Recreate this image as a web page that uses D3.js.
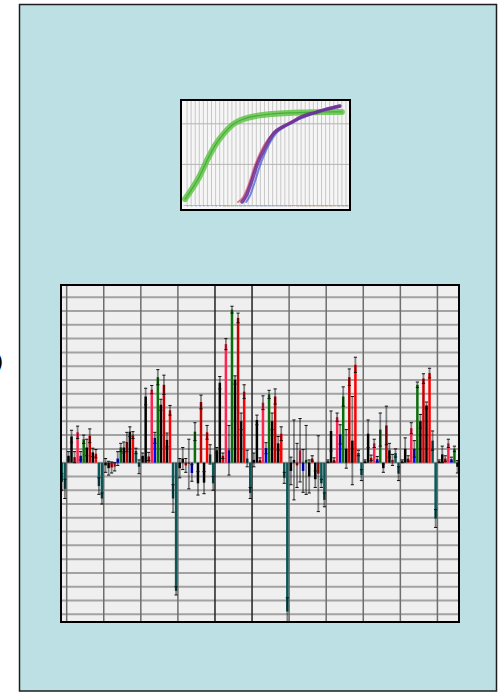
<!DOCTYPE html>
<html>
<head>
<meta charset="utf-8">
<script src="https://cdn.jsdelivr.net/npm/d3@7"></script>
<style>
  body { margin: 0; background: #fff; }
  svg { display: block; }
</style>
</head>
<body>
<svg width="499" height="693"></svg>
<script>
'use strict';

// bar chart: 12 slots per group, colour is fixed per slot
const slotColors = ['#000000', '#000000', '#d40000', '#ff2450', '#0000ff', '#0a6e0a',
  '#000000', '#c40000', '#000000', '#ff0000', '#0b5656', '#0b5656'];
const groupIds = d3.range(-1, 11);
const values = [
  [null, null, null, null, null, null, null, null, null, null, -1.4, -1.9],
  [0.5, 1.9, 0.4, 2.2, 0.5, 1.7, 1.1, 1.95, 0.75, 0.65, -1.7, -2.6],
  [-0.2, -0.4, -0.35, -0.3, 0.3, 1.1, 1.1, 1.5, 2.25, 2.0, 0.85, -0.3],
  [0.5, 4.8, 0.45, 5.3, 1.8, 6.2, 4.2, 5.65, 1.65, 3.8, -2.6, -9.3],
  [-0.4, 0.3, -0.2, -0.1, -0.75, 2.25, -1.5, 4.4, -1.45, 2.2, 0.6, -1.5],
  [0.9, 5.8, 0.5, 8.6, 0.9, 11.1, 6.0, 10.5, 3.0, 5.15, 0.3, -2.2],
  [0.2, 3.1, 0.2, 4.35, 1.05, 4.95, 3.0, 4.8, 1.4, 2.1, -1.1, -10.8],
  [-0.6, 0.2, -0.2, 0.9, -0.6, 0.2, -1.0, 0.3, -1.2, -0.8, -1.5, -2.7],
  [0.1, 2.3, 0.2, 3.3, 2.05, 4.8, 1.0, 6.2, 1.6, 7.1, 0.7, -0.9],
  [0.1, 2.1, 0.35, 1.4, 0.25, 2.4, -0.4, 2.7, 0.9, 0.2, 0.7, -0.8],
  [0.1, 1.0, 0.3, 2.5, 1.0, 5.65, 3.0, 6.1, 4.15, 6.5, 1.6, -4.05],
  [0.1, 0.6, 0.3, 1.4, 0.25, 1.0, -0.3, null, null, null, null, null]
];
const errors = [
  [null, null, null, null, null, null, null, null, null, null, 0.6, 0.7],
  [0.3, 0.45, 0.4, 0.45, 0.3, 0.3, 0.6, 0.5, 0.3, 0.3, 0.6, 0.4],
  [0.5, 0.5, 0.4, 0.3, 0.5, 0.3, 0.4, 0.7, 0.35, 0.25, 0.2, 0.5],
  [0.2, 0.6, 0.3, 0.3, 0.4, 0.55, 0.4, 0.7, 0.5, 0.35, 1.0, 0.3],
  [0.7, 0.8, 0.5, 1.8, 0.6, 0.65, 0.85, 0.5, 0.8, 0.5, 0.7, 0.5],
  [0.2, 0.45, 0.2, 0.4, 1.8, 0.25, 0.3, 0.35, 0.6, 0.5, 0.6, 0.4],
  [0.5, 0.35, 0.15, 0.5, 0.4, 0.3, 0.6, 0.55, 0.5, 0.5, 0.4, 1.0],
  [1.0, 2.9, 1.6, 2.3, 1.55, 2.5, 1.2, 0.2, 0.6, 2.75, 0.3, 0.5],
  [0.1, 1.45, 0.15, 0.3, 0.7, 0.7, 1.4, 0.6, 3.2, 0.55, 0.2, 0.4],
  [0.1, 1.0, 0.2, 0.3, 0.2, 1.2, 0.3, 1.4, 0.5, 0.4, 0.3, 0.5],
  [0.1, 0.8, 0.2, 0.4, 0.6, 0.2, 0.5, 0.35, 0.25, 0.35, 0.7, 0.65],
  [0.1, 0.6, 0.2, 0.3, 0.15, 0.2, 0.45, null, null, null, null, null]
];
const yGrid = d3.range(-11, 13);

// inset amplification plot (cycles vs. fluorescence)
const insetCycles = d3.range(1, 41);
const insetYTicks = [0.38, 0.79];
const greenCycles = [0.5, 2, 4, 6, 8, 10, 12, 15, 18, 22, 26, 30, 34, 39];
const greenValues = [0.03, 0.12, 0.255, 0.43, 0.58, 0.69, 0.775, 0.84, 0.87, 0.89, 0.9, 0.905, 0.91, 0.91];
const purpleCycles = [14.5, 15.5, 16.7, 18.3, 19.9, 22.4, 24.5, 26.5, 29, 32.2, 35, 38.5];
const purpleValues = [0.0, 0.06, 0.19, 0.39, 0.53, 0.7, 0.76, 0.8, 0.86, 0.9, 0.935, 0.97];
const redCycles = [13.5, 14.8, 16, 17.5, 19, 21, 23.5, 26, 29, 32, 35, 38.5];
const redValues = [0.0, 0.05, 0.16, 0.35, 0.5, 0.64, 0.74, 0.8, 0.86, 0.9, 0.94, 0.975];
const blueCycles = [15.5, 16.5, 17.6, 19, 20.5, 22.8, 25, 27, 30, 33, 36, 38.5];
const blueValues = [0.0, 0.07, 0.2, 0.38, 0.53, 0.69, 0.76, 0.81, 0.86, 0.91, 0.94, 0.96];

const svg = d3.select('svg');

// outer panel
svg.append('rect')
  .attr('x', 19.5).attr('y', 4.5)
  .attr('width', 477).attr('height', 686.5)
  .attr('fill', '#bce0e3')
  .attr('stroke', '#1e1e1e')
  .attr('stroke-width', 1.5);

// cut-off label at the left edge
svg.append('text')
  .attr('x', -5).attr('y', 369)
  .attr('font-family', 'DejaVu Sans')
  .attr('font-size', 22)
  .text(')');

// ---- inset ----
const inset = { left: 181, top: 100, right: 350, bottom: 210 };
const ix = d3.scaleLinear().domain([0, 40.5]).range([inset.left + 2, inset.right - 2]);
const iy = d3.scaleLinear().domain([0, 1]).range([inset.bottom - 8, inset.top + 3]);

const ig = svg.append('g');
ig.append('rect')
  .attr('x', inset.left).attr('y', inset.top)
  .attr('width', inset.right - inset.left)
  .attr('height', inset.bottom - inset.top)
  .attr('fill', '#f6f6f6');

ig.append('g')
  .selectAll('line')
  .data(insetCycles)
  .enter().append('line')
    .attr('x1', d => ix(d)).attr('x2', d => ix(d))
    .attr('y1', inset.top).attr('y2', inset.bottom - 5)
    .attr('stroke', '#c8c8c8')
    .attr('stroke-width', 1);

ig.append('g')
  .selectAll('line')
  .data(insetYTicks)
  .enter().append('line')
    .attr('x1', inset.left).attr('x2', inset.right)
    .attr('y1', d => iy(d)).attr('y2', d => iy(d))
    .attr('stroke', '#b4b4b4')
    .attr('stroke-width', 1);

ig.append('g')
  .attr('transform', `translate(0,${inset.bottom - 5})`)
  .call(d3.axisBottom(ix).tickValues(insetCycles).tickSize(0).tickPadding(0))
  .call(g => g.select('.domain').attr('stroke', '#bbb'))
  .call(g => g.selectAll('text')
    .attr('font-size', 2.6)
    .attr('font-family', 'DejaVu Sans')
    .attr('fill', '#888'));

const curve = d3.line()
  .x(d => ix(d[0]))
  .y(d => iy(d[1]))
  .curve(d3.curveMonotoneX);

const curves = [
  { c: greenCycles, v: greenValues, color: '#62c446', width: 6, opacity: 0.85 },
  { c: greenCycles, v: greenValues, color: '#3aa632', width: 1.2, opacity: 0.8 },
  { c: redCycles, v: redValues, color: '#e0405a', width: 2, opacity: 0.7 },
  { c: blueCycles, v: blueValues, color: '#3d55e0', width: 2, opacity: 0.7 },
  { c: purpleCycles, v: purpleValues, color: '#6a2c98', width: 3.5, opacity: 0.85 }
];
ig.append('g')
  .selectAll('path')
  .data(curves)
  .enter().append('path')
    .attr('d', d => curve(d3.zip(d.c, d.v)))
    .attr('fill', 'none')
    .attr('stroke', d => d.color)
    .attr('stroke-width', d => d.width)
    .attr('stroke-opacity', d => d.opacity)
    .attr('stroke-linecap', 'round');

ig.append('rect')
  .attr('x', inset.left).attr('y', inset.top)
  .attr('width', inset.right - inset.left)
  .attr('height', inset.bottom - inset.top)
  .attr('fill', 'none')
  .attr('stroke', '#000')
  .attr('stroke-width', 2);

// ---- bar chart ----
const frame = { left: 61, top: 285, right: 459, bottom: 622 };
const y = d3.scaleLinear().domain([-11.56, 12.89]).range([frame.bottom, frame.top]);
const gx = d3.scaleBand().domain(groupIds).range([29.6, 474.5]);
const sx = d3.scaleBand().domain(d3.range(12)).range([0, gx.bandwidth()]).padding(0.18);

svg.append('clipPath')
  .attr('id', 'frame-clip')
  .append('rect')
    .attr('x', frame.left).attr('y', frame.top)
    .attr('width', frame.right - frame.left)
    .attr('height', frame.bottom - frame.top);

const chart = svg.append('g')
  .attr('clip-path', 'url(#frame-clip)');

chart.append('rect')
  .attr('x', frame.left).attr('y', frame.top)
  .attr('width', frame.right - frame.left)
  .attr('height', frame.bottom - frame.top)
  .attr('fill', '#efefef');

chart.append('g')
  .selectAll('line')
  .data(yGrid)
  .enter().append('line')
    .attr('x1', frame.left).attr('x2', frame.right)
    .attr('y1', d => y(d)).attr('y2', d => y(d))
    .attr('stroke', '#a2a2a2')
    .attr('stroke-width', 2);

chart.append('g')
  .selectAll('line')
  .data(groupIds.filter(g => g >= 0))
  .enter().append('line')
    .attr('x1', d => gx(d)).attr('x2', d => gx(d))
    .attr('y1', frame.top).attr('y2', frame.bottom)
    .attr('stroke', d => (d === 4 || d === 5) ? '#222' : '#6e6e6e')
    .attr('stroke-width', 1.5);

const bars = [];
groupIds.forEach((g, gi) => {
  values[gi].forEach((v, s) => {
    if (v === null) return;
    bars.push({ g: g, s: s, value: v, err: errors[gi][s] });
  });
});

const cx = d => gx(d.g) + sx(d.s) + sx.bandwidth() / 2;

chart.append('g')
  .selectAll('rect')
  .data(bars)
  .enter().append('rect')
    .attr('x', d => gx(d.g) + sx(d.s))
    .attr('y', d => y(Math.max(0, d.value)))
    .attr('width', sx.bandwidth())
    .attr('height', d => Math.abs(y(d.value) - y(0)))
    .attr('fill', d => slotColors[d.s]);

const err = chart.append('g')
  .selectAll('g')
  .data(bars)
  .enter().append('g');
err.append('rect')
  .attr('x', d => cx(d) - 0.9)
  .attr('y', d => y(d.value + d.err))
  .attr('width', 1.8)
  .attr('height', d => y(d.value - d.err) - y(d.value + d.err))
  .attr('fill', 'rgba(0,0,0,0.45)');
err.selectAll('line')
  .data(d => [d.value + d.err, d.value - d.err].map(v => ({ x: cx(d), v: v })))
  .enter().append('line')
    .attr('x1', d => d.x - 1.6).attr('x2', d => d.x + 1.6)
    .attr('y1', d => y(d.v)).attr('y2', d => y(d.v))
    .attr('stroke', '#111')
    .attr('stroke-width', 1);

svg.append('rect')
  .attr('x', frame.left).attr('y', frame.top)
  .attr('width', frame.right - frame.left)
  .attr('height', frame.bottom - frame.top)
  .attr('fill', 'none')
  .attr('stroke', '#000')
  .attr('stroke-width', 2);
</script>
</body>
</html>
